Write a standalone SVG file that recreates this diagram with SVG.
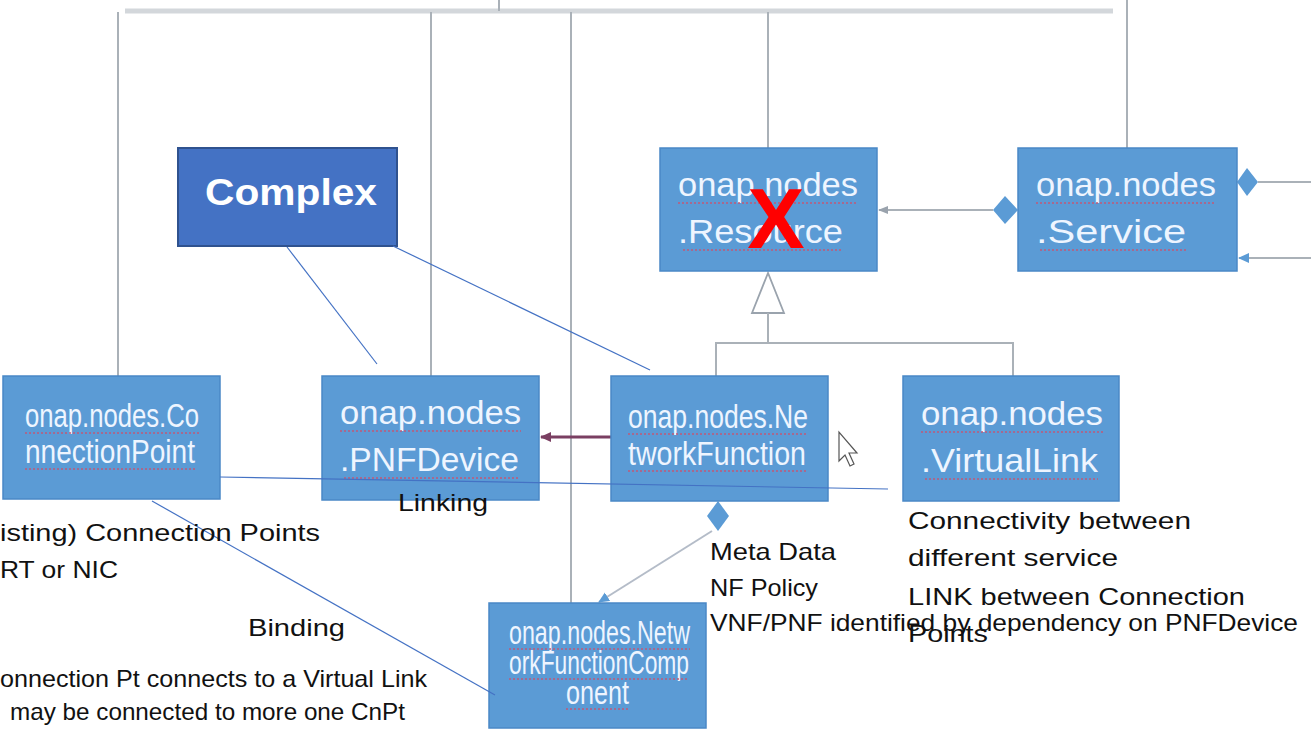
<svg xmlns="http://www.w3.org/2000/svg" width="1311" height="730" viewBox="0 0 1311 730">
<style>
.node{fill:#5b9bd5;stroke:#4a88c6;stroke-width:1.5}
.nt{fill:#eef5ff;font-family:"Liberation Sans",Arial,sans-serif;font-size:34px}
.sq{stroke:#c05a78;stroke-width:1.5;stroke-dasharray:2 2;fill:none}
.gl{stroke:#aab1b8;stroke-width:2;fill:none}
.bl{stroke:#4472c4;stroke-width:1.2;fill:none}
.lbl{fill:#111;font-family:"Liberation Sans",Arial,sans-serif;font-size:24px}
</style>
<defs>
<marker id="ag" markerWidth="10" markerHeight="10" refX="9" refY="5" orient="auto" markerUnits="userSpaceOnUse">
<path d="M0,1 L10,5 L0,9 z" fill="#9aa3ad"/>
</marker>
<marker id="ap" markerWidth="12" markerHeight="12" refX="10" refY="6" orient="auto" markerUnits="userSpaceOnUse">
<path d="M0,1 L11,6 L0,11 z" fill="#7a3f62"/>
</marker>
<marker id="ab" markerWidth="12" markerHeight="12" refX="10" refY="6" orient="auto" markerUnits="userSpaceOnUse">
<path d="M0,1 L11,6 L0,11 z" fill="#5b9bd5"/>
</marker>
</defs>
<rect width="1311" height="730" fill="#ffffff"/>

<g id="connectors">
<line x1="125" y1="11" x2="1113" y2="11" stroke="#d3d7db" stroke-width="5"/>
<line class="gl" x1="499" y1="0" x2="499" y2="11"/>
<line class="gl" x1="118" y1="12" x2="118" y2="376"/>
<line class="gl" x1="431" y1="12" x2="431" y2="376"/>
<line class="gl" x1="571" y1="12" x2="571" y2="603"/>
<line class="gl" x1="768" y1="12" x2="768" y2="148"/>
<line class="gl" x1="1127" y1="0" x2="1127" y2="148"/>
<line class="gl" x1="993" y1="210" x2="879" y2="210" marker-end="url(#ag)"/>
<polygon points="993,210 1005,196 1018,210 1005,224" fill="#5b9bd5"/>
<polygon points="1237,182 1247,168 1258,182 1247,196" fill="#5b9bd5"/>
<line class="gl" x1="1258" y1="182" x2="1311" y2="182"/>
<line class="gl" x1="1311" y1="258" x2="1239" y2="258" marker-end="url(#ab)"/>
<polygon points="768,273 752,313 784,313" fill="#ffffff" stroke="#9aa3ad" stroke-width="1.8"/>
<polyline class="gl" points="768,313 768,343"/>
<polyline class="gl" points="716,376 716,343 1013,343 1013,376"/>
<line x1="611" y1="437" x2="541" y2="437" stroke="#7a3f62" stroke-width="3" marker-end="url(#ap)"/>
<polygon points="718,501 729,516 718,531 707,516" fill="#5b9bd5"/>
<line x1="712" y1="531" x2="599" y2="602" stroke="#b4bcc8" stroke-width="2" marker-end="url(#ab)"/>
</g>

<g id="complex">
<rect x="178" y="148" width="219" height="98" fill="#4472c4" stroke="#2f528f" stroke-width="2"/>
<text x="205" y="205" fill="#ffffff" font-family="Liberation Sans,Arial,sans-serif" font-size="37" font-weight="bold" textLength="172" lengthAdjust="spacingAndGlyphs">Complex</text>
</g>

<g id="resource">
<rect class="node" x="660" y="148" width="217" height="123"/>
<text class="nt" x="678" y="196" textLength="180" lengthAdjust="spacingAndGlyphs">onap.nodes</text>
<text class="nt" x="678" y="243" textLength="165" lengthAdjust="spacingAndGlyphs">.Resource</text>
<line class="sq" x1="678" y1="203" x2="858" y2="203"/>
<line class="sq" x1="683" y1="250" x2="843" y2="250"/>
<text x="776" y="248" text-anchor="middle" fill="#ff0000" font-family="Liberation Sans,Arial,sans-serif" font-size="86" font-weight="bold">X</text>
</g>

<g id="service">
<rect class="node" x="1018" y="148" width="219" height="123"/>
<text class="nt" x="1036" y="196" textLength="180" lengthAdjust="spacingAndGlyphs">onap.nodes</text>
<text class="nt" x="1036" y="243" textLength="150" lengthAdjust="spacingAndGlyphs">.Service</text>
<line class="sq" x1="1036" y1="203" x2="1216" y2="203"/>
<line class="sq" x1="1040" y1="250" x2="1186" y2="250"/>
</g>

<g id="connectionpoint">
<rect class="node" x="3" y="376" width="217" height="123"/>
<text class="nt" x="25" y="427" font-size="28" textLength="174" lengthAdjust="spacingAndGlyphs">onap.nodes.Co</text>
<text class="nt" x="25" y="463" font-size="28" textLength="170" lengthAdjust="spacingAndGlyphs">nnectionPoint</text>
<line class="sq" x1="25" y1="433" x2="199" y2="433"/>
<line class="sq" x1="25" y1="469" x2="195" y2="469"/>
</g>

<g id="pnfdevice">
<rect class="node" x="322" y="376" width="217" height="124"/>
<text class="nt" x="340" y="424" textLength="181" lengthAdjust="spacingAndGlyphs">onap.nodes</text>
<text class="nt" x="340" y="471" textLength="179" lengthAdjust="spacingAndGlyphs">.PNFDevice</text>
<line class="sq" x1="340" y1="431" x2="521" y2="431"/>
<line class="sq" x1="344" y1="478" x2="519" y2="478"/>
</g>

<g id="networkfunction">
<rect class="node" x="611" y="376" width="217" height="125"/>
<text class="nt" x="628" y="428" font-size="28" textLength="180" lengthAdjust="spacingAndGlyphs">onap.nodes.Ne</text>
<text class="nt" x="628" y="465" font-size="28" textLength="178" lengthAdjust="spacingAndGlyphs">tworkFunction</text>
<line class="sq" x1="628" y1="434" x2="808" y2="434"/>
<line class="sq" x1="628" y1="471" x2="806" y2="471"/>
</g>

<g id="virtuallink">
<rect class="node" x="903" y="376" width="216" height="125"/>
<text class="nt" x="921" y="425" textLength="182" lengthAdjust="spacingAndGlyphs">onap.nodes</text>
<text class="nt" x="921" y="472" textLength="177" lengthAdjust="spacingAndGlyphs">.VirtualLink</text>
<line class="sq" x1="921" y1="432" x2="1103" y2="432"/>
<line class="sq" x1="925" y1="479" x2="1098" y2="479"/>
</g>

<g id="networkfunctioncomponent">
<rect class="node" x="489" y="603" width="217" height="125"/>
<text class="nt" x="509" y="644" font-size="22" textLength="181" lengthAdjust="spacingAndGlyphs">onap.nodes.Netw</text>
<text class="nt" x="509" y="674" font-size="22" textLength="180" lengthAdjust="spacingAndGlyphs">orkFunctionComp</text>
<text class="nt" x="566" y="704" font-size="22" textLength="63" lengthAdjust="spacingAndGlyphs">onent</text>
<line class="sq" x1="509" y1="649" x2="690" y2="649"/>
<line class="sq" x1="509" y1="679" x2="689" y2="679"/>
<line class="sq" x1="566" y1="709" x2="629" y2="709"/>
</g>

<g id="annotation-links">
<line class="bl" x1="287" y1="247" x2="377" y2="364"/>
<line class="bl" x1="393" y1="246" x2="650" y2="370"/>
<line class="bl" x1="220" y1="477" x2="888" y2="489"/>
<line class="bl" x1="152" y1="501" x2="495" y2="695"/>
</g>

<g id="cursor">
<polygon points="839,432 839,461 845,455 850,466 854,464 849,453 857,453" fill="#ffffff" stroke="#555" stroke-width="1.2"/>
</g>

<g id="labels">
<text class="lbl" x="0" y="541" font-size="26" textLength="320" lengthAdjust="spacingAndGlyphs">isting) Connection Points</text>
<text class="lbl" x="0" y="578" font-size="26" textLength="118" lengthAdjust="spacingAndGlyphs">RT or NIC</text>
<text class="lbl" x="398" y="511" font-size="26" textLength="90" lengthAdjust="spacingAndGlyphs">Linking</text>
<text class="lbl" x="248" y="636" font-size="26" textLength="97" lengthAdjust="spacingAndGlyphs">Binding</text>
<text class="lbl" x="0" y="687" font-size="22" textLength="427" lengthAdjust="spacingAndGlyphs">onnection Pt connects to a Virtual Link</text>
<text class="lbl" x="10" y="720" font-size="22" textLength="395" lengthAdjust="spacingAndGlyphs">may be connected to more one CnPt</text>
<text class="lbl" x="710" y="560" textLength="126" lengthAdjust="spacingAndGlyphs">Meta Data</text>
<text class="lbl" x="710" y="596" textLength="108" lengthAdjust="spacingAndGlyphs">NF Policy</text>
<text class="lbl" x="710" y="631" textLength="588" lengthAdjust="spacingAndGlyphs">VNF/PNF identified by dependency on PNFDevice</text>
<text class="lbl" x="908" y="529" font-size="26" textLength="283" lengthAdjust="spacingAndGlyphs">Connectivity between</text>
<text class="lbl" x="908" y="566" font-size="26" textLength="210" lengthAdjust="spacingAndGlyphs">different service</text>
<text class="lbl" x="908" y="605" font-size="26" textLength="337" lengthAdjust="spacingAndGlyphs">LINK between Connection</text>
<text class="lbl" x="908" y="642" font-size="26" textLength="80" lengthAdjust="spacingAndGlyphs">Points</text>
</g>
</svg>
